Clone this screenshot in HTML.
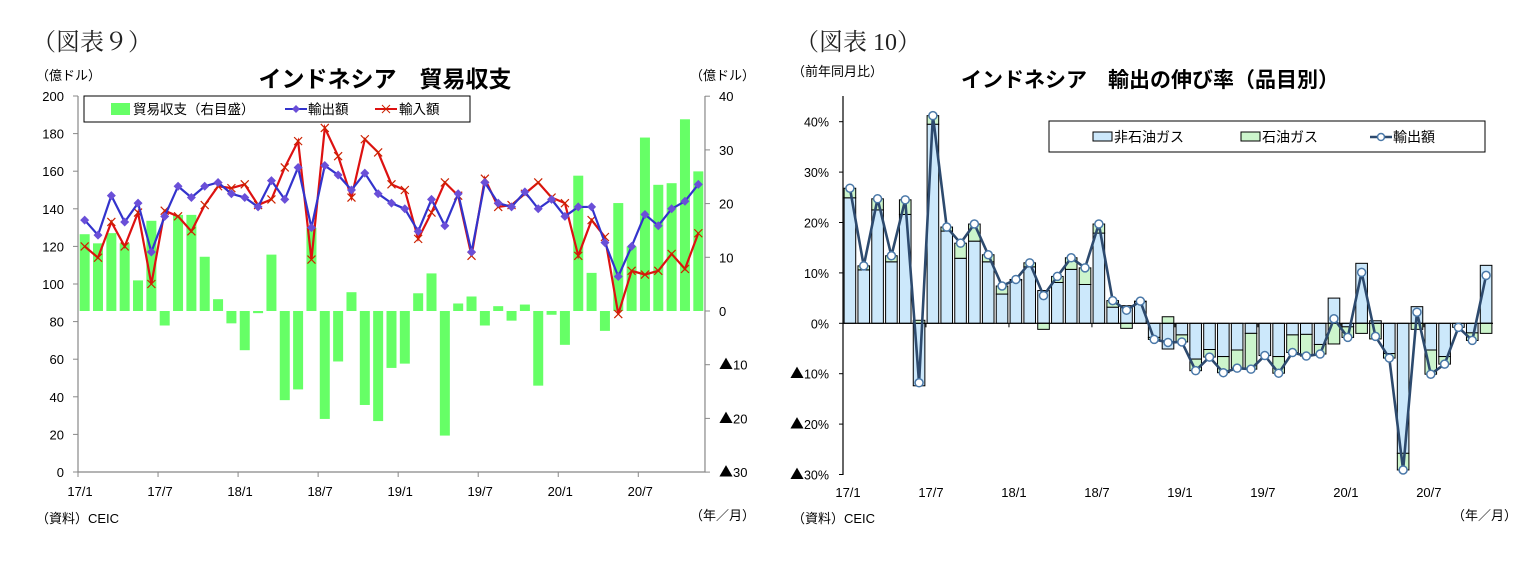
<!DOCTYPE html>
<html><head><meta charset="utf-8">
<style>
html,body{margin:0;padding:0;background:#fff;}
svg{display:block;font-family:"Liberation Sans","Noto Sans CJK JP",sans-serif;}
</style></head>
<body>
<svg id="svg" width="1534" height="562" viewBox="0 0 1534 562" xmlns="http://www.w3.org/2000/svg">
<text x="32" y="50" font-size="24" font-family="Liberation Serif, Noto Serif CJK SC, serif" fill="#222">（図表９）</text>
<text x="36" y="80" font-size="13" fill="#000">（億ドル）</text>
<text x="385" y="87" font-size="23" text-anchor="middle" font-weight="bold" fill="#000">インドネシア　貿易収支</text>
<text x="690" y="80" font-size="13" fill="#000">（億ドル）</text>
<text x="36" y="523" font-size="13" fill="#000">（資料）CEIC</text>
<text x="690" y="520" font-size="13" fill="#000">（年／月）</text>

<text x="795" y="50" font-size="24" font-family="Liberation Serif, Noto Serif CJK SC, serif" fill="#222">（図表 10）</text>
<text x="792" y="76" font-size="13" fill="#000">（前年同月比）</text>
<text x="1150" y="87" font-size="21" text-anchor="middle" font-weight="bold" fill="#000">インドネシア　輸出の伸び率（品目別）</text>
<text x="792" y="523" font-size="13" fill="#000">（資料）CEIC</text>
<text x="1452" y="520" font-size="13" fill="#000">（年／月）</text>
<g id="left"></g>
<g id="right"></g>
</svg>
<script>
// ---- Left chart data ----
const monthsL = 47;
const xTickLabels = ["17/1","17/7","18/1","18/7","19/1","19/7","20/1","20/7"];
const leftTicks = [0,20,40,60,80,100,120,140,160,180,200];
const rightTicks = [-30,-20,-10,0,10,20,30,40];
const exports9 = [134,126,147,133,143,117,136,152,146,152,154,148,146,141,155,145,162,130,163,158,150,159,148,143,140,128,145,131,148,117,154,143,141,149,140,145,136,141,141,122,104,120,137,131,140,144,153];
const imports9 = [120,114,133,120,138,100,139,136,128,142,152,151,153,142,145,162,176,113,183,168,146,177,170,153,150,124,138,154,147,115,156,141,142,148,154,146,143,115,134,125,84,107,105,107,116,108,127];
const balance9 = [14.3,12.6,14.5,12.6,5.7,16.8,-2.7,17.9,17.9,10.1,2.2,-2.3,-7.3,-0.4,10.5,-16.6,-14.6,15.5,-20.1,-9.4,3.5,-17.5,-20.5,-10.6,-9.8,3.3,7.0,-23.2,1.4,2.7,-2.7,0.9,-1.8,1.2,-13.9,-0.7,-6.3,25.2,7.1,-3.7,20.1,12.0,32.3,23.5,23.8,35.7,26.0];

// ---- Right chart data ----
const yTicks10 = [-30,-20,-10,0,10,20,30,40];
const nonOil10 = [24.9,10.6,22.5,12.2,21.6,-12.4,39.5,18.3,12.9,16.3,12.2,5.8,8.6,11.2,6.5,8.1,10.7,7.7,17.9,3.2,3.5,4.3,-2.8,-5.1,-2.3,-7.1,-5.2,-6.6,-5.3,-2.0,-6.4,-6.6,-2.3,-2.2,-4.2,5.0,-0.7,11.9,0.5,-6.0,-25.8,3.3,-5.3,-6.6,-0.8,-1.9,11.5];
const oil10 = [1.9,0.8,2.2,1.2,2.9,0.6,1.7,0.8,3.0,3.4,1.4,1.6,0.1,0.8,-1.2,1.2,2.3,3.3,1.8,1.3,-1.0,0.1,-0.4,1.3,-1.4,-2.3,-1.5,-3.2,-3.6,-7.1,0,-3.3,-3.5,-4.3,-1.9,-4.1,-2.1,-2.0,-3.1,-0.9,-3.3,-1.2,-4.8,-1.5,0,-1.5,-2.0];
const total10 = [26.8,11.4,24.7,13.4,24.5,-11.8,41.2,19.1,15.9,19.7,13.6,7.4,8.7,12.0,5.5,9.3,13.0,11.0,19.7,4.5,2.6,4.4,-3.2,-3.8,-3.7,-9.4,-6.7,-9.8,-8.9,-9.1,-6.4,-9.9,-5.8,-6.5,-6.1,0.9,-2.8,10.1,-2.6,-6.9,-29.1,2.2,-10.1,-8.1,-0.8,-3.4,9.5];

const NS="http://www.w3.org/2000/svg";
function mk(parent,tag,attrs,txt){const e=document.createElementNS(NS,tag);for(const k in attrs)e.setAttribute(k,attrs[k]);if(txt!==undefined)e.textContent=txt;parent.appendChild(e);return e;}
function tri(el,t,suffix){
  if(t<0){mk(el,'tspan',{'font-family':'Noto Sans CJK JP, sans-serif','font-size':14},'▲');}
  mk(el,'tspan',{},String(Math.abs(t))+suffix);
}

// ===== Left chart =====
(function(){
const g=document.getElementById('left');
const X0=78,STEP=13.34,Y0=472;
const xc=i=>X0+(i+0.5)*STEP;
const yL=v=>Y0-v*1.88;
const yR=v=>311-v*5.37;
const X1=X0+monthsL*STEP;
balance9.forEach((v,i)=>{
  const r=mk(g,'rect',{x:xc(i)-5,y:Math.min(yR(v),yR(0)),width:10,height:Math.abs(yR(v)-yR(0)),fill:'#66ff66'});
  
  
});
const ax=mk(g,'path',{d:`M${X0},96V${Y0}H${X1}V96`,fill:'none',stroke:'#888','stroke-width':1.2});

leftTicks.forEach(t=>{
  mk(g,'line',{x1:X0-5,x2:X0,y1:yL(t),y2:yL(t),stroke:'#888'});
  const tx=mk(g,'text',{x:X0-14,y:yL(t)+5,'font-size':13,'text-anchor':'end'},String(t));
  
});
rightTicks.forEach(t=>{
  mk(g,'line',{x1:X1,x2:X1+5,y1:yR(t),y2:yR(t),stroke:'#888'});
  const tx=mk(g,'text',{x:X1+14,y:yR(t)+5,'font-size':13});
  tri(tx,t,'');
  
});
xTickLabels.forEach((l,k)=>{
  const x=X0+k*6*STEP;
  mk(g,'line',{x1:x,x2:x,y1:Y0,y2:Y0+5,stroke:'#888'});
  const tx=mk(g,'text',{x:x+2,y:Y0+24,'font-size':13,'text-anchor':'middle'},l);
  
});
const ip=mk(g,'polyline',{points:imports9.map((v,i)=>xc(i)+','+yL(v)).join(' '),fill:'none',stroke:'#dd1111','stroke-width':2.2});

imports9.forEach((v,i)=>{const x=xc(i),y=yL(v);
  const m=mk(g,'path',{d:`M${x-4},${y-4}L${x+4},${y+4}M${x-4},${y+4}L${x+4},${y-4}`,stroke:'#cc2200','stroke-width':1.2});
  });
const ep=mk(g,'polyline',{points:exports9.map((v,i)=>xc(i)+','+yL(v)).join(' '),fill:'none',stroke:'#3333cc','stroke-width':2.2});

exports9.forEach((v,i)=>{const x=xc(i),y=yL(v);
  const m=mk(g,'path',{d:`M${x},${y-4.5}L${x+4.5},${y}L${x},${y+4.5}L${x-4.5},${y}Z`,fill:'#6a4fd8'});
  });
const lg=mk(g,'g',{});

mk(lg,'rect',{x:84,y:96,width:386,height:26,fill:'#fff',stroke:'#000','stroke-width':1});
mk(lg,'rect',{x:111,y:103,width:19,height:12,fill:'#66ff66'});
mk(lg,'text',{x:133,y:114,'font-size':13.5},'貿易収支（右目盛）');
mk(lg,'line',{x1:285,x2:307,y1:109,y2:109,stroke:'#3333cc','stroke-width':2});
mk(lg,'path',{d:'M296,105L300,109L296,113L292,109Z',fill:'#6a4fd8'});
mk(lg,'text',{x:308,y:114,'font-size':13.5},'輸出額');
mk(lg,'line',{x1:375,x2:397,y1:109,y2:109,stroke:'#dd1111','stroke-width':2});
mk(lg,'path',{d:'M382,105L390,113M382,113L390,105',stroke:'#cc2200'});
mk(lg,'text',{x:399,y:114,'font-size':13.5},'輸入額');
})();

// ===== Right chart =====
(function(){
const g=document.getElementById('right');
const X0=843,STEP=13.83;
const xc=i=>X0+(i+0.5)*STEP;
const yP=v=>323.3-v*5.04;
const X1=X0+monthsL*STEP;
nonOil10.forEach((v,i)=>{
  const o=oil10[i];const x=xc(i)-5.8,w=11.6;
  const b=mk(g,'rect',{x:x,y:Math.min(yP(v),yP(0)),width:w,height:Math.abs(yP(v)-yP(0)),fill:'#cce8fb',stroke:'#000','stroke-width':1});
  
  const base=(Math.sign(o)===Math.sign(v))?v:0;
  const gb=mk(g,'rect',{x:x,y:Math.min(yP(base+o),yP(base)),width:w,height:Math.abs(yP(base+o)-yP(base)),fill:'#ccf5cc',stroke:'#000','stroke-width':1});
  
});
const ax=mk(g,'path',{d:`M${X0},96V475`,fill:'none',stroke:'#000','stroke-width':1.2});

const zl=mk(g,'line',{x1:X0,x2:X1,y1:yP(0),y2:yP(0),stroke:'#000','stroke-width':1.2});

yTicks10.forEach(t=>{
  mk(g,'line',{x1:X0-4,x2:X0,y1:yP(t),y2:yP(t),stroke:'#000'});
  const tx=mk(g,'text',{x:X0-14,y:yP(t)+5,'font-size':12.5,'text-anchor':'end'});
  tri(tx,t,'%');
  
});
xTickLabels.forEach((l,k)=>{
  const x=X0+k*6*STEP;
  mk(g,'line',{x1:x,x2:x,y1:yP(0),y2:yP(0)+4,stroke:'#000'});
  const tx=mk(g,'text',{x:x+5,y:497,'font-size':13,'text-anchor':'middle'},l);
  
});
const tl=mk(g,'polyline',{points:total10.map((v,i)=>xc(i)+','+yP(v)).join(' '),fill:'none',stroke:'#2d4a6e','stroke-width':2.6});

total10.forEach((v,i)=>{
  const c=mk(g,'circle',{cx:xc(i),cy:yP(v),r:4,fill:'#fff',stroke:'#4a78a8','stroke-width':1.5});
  
});
const lg=mk(g,'g',{});

mk(lg,'rect',{x:1049,y:121,width:436,height:31,fill:'#fff',stroke:'#000','stroke-width':1});
mk(lg,'rect',{x:1093,y:132,width:19,height:9,fill:'#cce8fb',stroke:'#000'});
mk(lg,'text',{x:1114,y:142,'font-size':14},'非石油ガス');
mk(lg,'rect',{x:1241,y:132,width:19,height:9,fill:'#ccf5cc',stroke:'#000'});
mk(lg,'text',{x:1262,y:142,'font-size':14},'石油ガス');
mk(lg,'line',{x1:1370,x2:1392,y1:137,y2:137,stroke:'#2d4a6e','stroke-width':2.5});
mk(lg,'circle',{cx:1381,cy:137,r:3.5,fill:'#fff',stroke:'#4a78a8','stroke-width':1.5});
mk(lg,'text',{x:1393,y:142,'font-size':14},'輸出額');
})();
</script>
</body></html>
